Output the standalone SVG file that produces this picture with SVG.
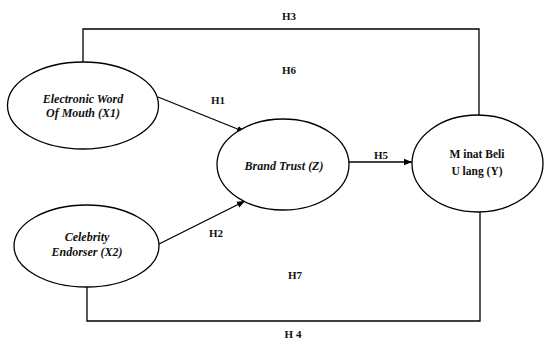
<svg xmlns="http://www.w3.org/2000/svg" width="545" height="340" viewBox="0 0 545 340">
  <style>
    .node ellipse { fill: #fff; stroke: #000; stroke-width: 1.3; }
    .lbl { font-family: "Liberation Serif", "Times New Roman", serif; font-weight: bold; fill: #111; text-anchor: middle; }
    .it { font-style: italic; font-size: 12px; }
    .up { font-size: 11.5px; }
    .h { font-size: 11px; }
    .conn line, .conn polyline { fill: none; stroke: #000; stroke-width: 1.3; }
  </style>
  <defs>
    <marker id="arrow" viewBox="0 0 10 10" refX="10" refY="5" markerWidth="8" markerHeight="8" markerUnits="userSpaceOnUse" orient="auto">
      <path d="M0,1 L10,5 L0,9 z" fill="#000"/>
    </marker>
  </defs>

  <!-- connectors -->
  <g id="connectors" class="conn">
    <!-- H3: X1 to Y over the top -->
    <polyline points="83,62 83,29 479,29 479,115"/>
    <!-- H4: X2 to Y along the bottom -->
    <polyline points="87,287 87,321 480,321 480,212"/>
    <!-- H1 -->
    <line x1="158" y1="97" x2="245" y2="132" marker-end="url(#arrow)"/>
    <!-- H2 -->
    <line x1="159" y1="244" x2="245" y2="201" marker-end="url(#arrow)"/>
    <!-- H5 -->
    <line x1="349" y1="162" x2="412" y2="162" marker-end="url(#arrow)"/>
  </g>

  <!-- nodes -->
  <g id="x1" class="node">
    <ellipse cx="83" cy="105.5" rx="75.5" ry="43.5"/>
    <text class="lbl it" x="83" y="103">Electronic Word</text>
    <text class="lbl it" x="83" y="117">Of Mouth (X1)</text>
  </g>
  <g id="x2" class="node">
    <ellipse cx="86.5" cy="246" rx="72.5" ry="41"/>
    <text class="lbl it" x="87" y="241">Celebrity</text>
    <text class="lbl it" x="87" y="256">Endorser (X2)</text>
  </g>
  <g id="z" class="node">
    <ellipse cx="283" cy="164.5" rx="66" ry="45.5"/>
    <text class="lbl it" x="284" y="170">Brand Trust (Z)</text>
  </g>
  <g id="y" class="node">
    <ellipse cx="477.5" cy="163.5" rx="65.5" ry="48.5"/>
    <text class="lbl up" x="477" y="158">M inat Beli</text>
    <text class="lbl up" x="477" y="175">U lang (Y)</text>
  </g>

  <!-- hypothesis labels -->
  <g id="labels">
    <text class="lbl h" x="289" y="20">H3</text>
    <text class="lbl h" x="289" y="74">H6</text>
    <text class="lbl h" x="218" y="104">H1</text>
    <text class="lbl h" x="381" y="159">H5</text>
    <text class="lbl h" x="216" y="237">H2</text>
    <text class="lbl h" x="295" y="279">H7</text>
    <text class="lbl h" x="293" y="338">H 4</text>
  </g>
</svg>
